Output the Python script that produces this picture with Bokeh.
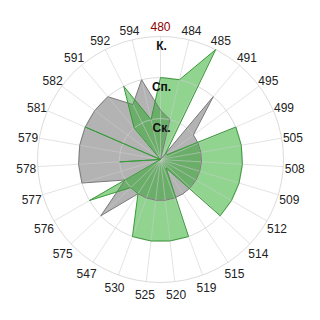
import numpy as np
from bokeh.plotting import figure
from bokeh.models import ColumnDataSource, Range1d
from bokeh.embed import file_html
from bokeh.resources import INLINE
from bokeh.core.properties import value

# Categories around the circle, clockwise from the top
categories = ["480", "484", "485", "491", "495", "499", "505", "508", "509",
              "512", "514", "515", "519", "520", "525", "530", "547", "575",
              "576", "577", "578", "579", "581", "582", "591", "592", "594"]

# Series levels (0 = centre, 1 = "Ск.", 2 = "Сп.", 3 = "К.")
gray_values = [1.2, 1.0, 0, 2, 1, 1, 1, 1, 1, 1, 1, 1, 1, 1, 1, 1, 1, 2, 1,
               2, 2, 2, 2, 2, 2, 1.5, 2]
green_values = [2, 2, 3, 0.2, 0.2, 2, 2, 2, 2, 2, 2, 0.25, 2, 2, 2, 2, 1, 1, 2,
                0, 1, 0, 2, 0, 1, 2, 1]

# Radial axis
level_labels = ["Ск.", "Сп.", "К."]
level_values = [1, 2, 3]
highlight = "480"

W = H = 320
UNIT = 41.0          # pixels per level
CX, CY = 160, 159    # pole position in pixels
RMAX = max(level_values)
LABEL_R = 3.28
LABEL_DY = -1.5 / UNIT
FONT = value("Liberation Sans")

n = len(categories)
theta = np.deg2rad(90 - np.arange(n) * 360.0 / n)

p = figure(width=W, height=H, output_backend="svg", toolbar_location=None,
           x_axis_type=None, y_axis_type=None, min_border=0,
           x_range=Range1d(-CX / UNIT, (W - CX) / UNIT),
           y_range=Range1d(-(H - CY) / UNIT, CY / UNIT))
p.outline_line_color = None
p.background_fill_color = "white"
p.border_fill_color = "white"


def polar(vals):
    v = np.asarray(vals, dtype=float)
    return v * np.cos(theta), v * np.sin(theta)


gx, gy = polar(gray_values)
ex, ey = polar(green_values)

# filled areas
p.patch(gx, gy, fill_color="#808080", fill_alpha=0.6, line_color=None)
p.patch(ex, ey, fill_color="#22aa22", fill_alpha=0.5, line_color=None)

# grid: spokes and rings
xs = [[0, RMAX * np.cos(t)] for t in theta]
ys = [[0, RMAX * np.sin(t)] for t in theta]
p.multi_line(xs, ys, line_color="#cccccc", line_alpha=0.55, line_width=1)
p.circle(x=[0] * len(level_values), y=[0] * len(level_values),
         radius=level_values, fill_color=None, line_color="#cccccc",
         line_alpha=0.7, line_width=1)

# outlines
p.line(np.append(gx, gx[0]), np.append(gy, gy[0]), line_color="#7a7a7a",
       line_width=1)
p.line(np.append(ex, ex[0]), np.append(ey, ey[0]), line_color="#3a9a3a",
       line_width=1)

# category labels
lab = ColumnDataSource(dict(
    x=LABEL_R * np.cos(theta), y=LABEL_R * np.sin(theta) + LABEL_DY,
    text=categories,
    color=["#8b0000" if c == highlight else "#222222" for c in categories]))
p.text(x="x", y="y", text="text", source=lab, text_color="color",
       text_font=FONT, text_font_size="12px", text_align="center",
       text_baseline="middle")

# level labels just inside each ring
lv = ColumnDataSource(dict(x=[1 / UNIT] * len(level_values),
                           y=[v - 0.24 for v in level_values],
                           text=level_labels))
p.text(x="x", y="y", text="text", source=lv, text_color="#111111",
       text_font=FONT, text_font_size="12px", text_font_style="bold",
       text_align="center", text_baseline="middle")

open("out.html", "w").write(file_html(p, INLINE))
